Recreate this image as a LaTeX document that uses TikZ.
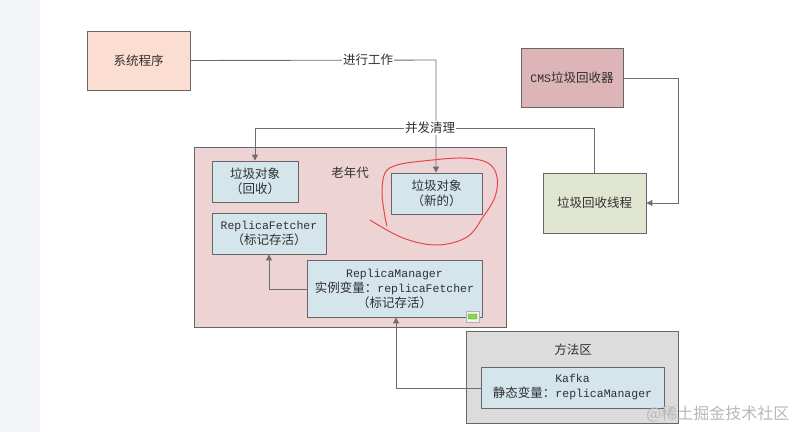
\documentclass[tikz,border=0pt]{standalone}
\usepackage{fontspec}
\setmainfont{Liberation Mono}
\newfontfamily\cjk{Noto Sans CJK SC}
\usetikzlibrary{arrows.meta}
\newcommand\zh[1]{{\fontsize{12.5}{15}\selectfont\cjk #1}}
\definecolor{linec}{HTML}{6E6E6E}
\definecolor{borderc}{HTML}{666666}
\definecolor{peach}{HTML}{FCDDD2}
\definecolor{cmsc}{HTML}{DDB4B7}
\definecolor{threadc}{HTML}{E1E6D3}
\definecolor{oldc}{HTML}{EDD3D4}
\definecolor{objc}{HTML}{D4E5EC}
\definecolor{methodc}{HTML}{DCDCDC}
\definecolor{txtc}{HTML}{303030}
\definecolor{redc}{HTML}{E8474A}
\definecolor{stripc}{HTML}{F4F5F9}
\definecolor{iconborder}{HTML}{B0B0B0}
\definecolor{iconfill}{HTML}{F2F2F2}
\definecolor{greenb}{HTML}{5E9E2E}
\definecolor{greenf}{HTML}{84D850}
\definecolor{wmc}{HTML}{B8B8B8}
\tikzset{
  box/.style={draw=borderc, line width=0.8pt, rectangle, inner sep=0pt, align=center,
    text=txtc, font=\fontsize{11.5}{15}\selectfont},
  conn/.style={draw=linec, line width=0.9pt},
  arr/.style={conn, -{Triangle[length=6pt,width=6pt]}},
  lbl/.style={fill=white, inner sep=1pt, text=txtc, font=\fontsize{12.5}{15}\selectfont\cjk},
}
\begin{document}
\begin{tikzpicture}[x=1pt,y=-1pt]
\useasboundingbox (0,0) rectangle (799,432);
\fill[white] (0,0) rectangle (799,432);
\fill[stripc] (0,0) rectangle (40,432);
% boxes
\node[box, fill=peach, minimum width=103pt, minimum height=59pt] (sys) at (138.5,60.5) {\zh{系统程序}};
\node[box, fill=cmsc, minimum width=102pt, minimum height=59pt] (cms) at (572,77.5) {CMS\zh{垃圾回收器}};
\node[box, fill=threadc, minimum width=103pt, minimum height=60pt] (thr) at (594.5,203) {\zh{垃圾回收线程}};
\node[box, fill=oldc, minimum width=312pt, minimum height=180pt] (old) at (350,237) {};
\node[text=txtc, font=\fontsize{12.5}{15}\selectfont\cjk] (oldl) at (350,173) {老年代};
\node[box, fill=objc, minimum width=86pt, minimum height=41pt] (rec) at (255,181.5) {\zh{垃圾对象}\\\zh{（回收）}};
\node[box, fill=objc, minimum width=91pt, minimum height=41pt] (new) at (436.5,193.5) {\zh{垃圾对象}\\\zh{（新的）}};
\node[box, fill=objc, minimum width=114pt, minimum height=41pt] (rf) at (269,233.5) {ReplicaFetcher\\\zh{（标记存活）}};
\node[box, fill=objc, minimum width=175pt, minimum height=57pt] (rm) at (394.5,288.5) {ReplicaManager\\\zh{实例变量：}replicaFetcher\\\zh{（标记存活）}};
\node[box, fill=methodc, minimum width=212pt, minimum height=92pt] (meth) at (572,377) {};
\node[text=txtc, font=\fontsize{12.5}{15}\selectfont\cjk] (methl) at (573,350) {方法区};
\node[box, fill=objc, minimum width=183pt, minimum height=41pt] (kafka) at (572.5,387.5) {Kafka\\\zh{静态变量：}replicaManager};
% green icon
\node[draw=iconborder, fill=iconfill, minimum width=13pt, minimum height=11pt, inner sep=0pt] (icon) at (472.5,316.5) {};
\node[draw=greenb, fill=greenf, rounded corners=1pt, minimum width=9pt, minimum height=5pt, inner sep=0pt] (iconin) at (icon.center) {};
% connectors
\coordinate (c1) at (436,60);
\draw[arr] (sys.east) -- (c1) -- (new.north -| c1);
\node[lbl] (l1) at (368,60) {进行工作};
\coordinate (c2a) at (678,78);
\coordinate (c2b) at (678,203);
\draw[arr] (cms.east |- c2a) -- (c2a) -- (c2b) -- (thr.east);
\coordinate (c3a) at (594.5,128);
\coordinate (c3b) at (255,128);
\draw[arr] (thr.north) -- (c3a) -- (c3b) -- (rec.north);
\node[lbl] (l2) at (430,128) {并发清理};
\coordinate (c4) at (269,289);
\draw[arr] (rm.west |- c4) -- (c4) -- (rf.south);
\coordinate (c5) at (396,388);
\draw[arr] (kafka.west |- c5) -- (c5) -- (rm.south -| c5);
% red freehand loop
\draw[redc, line width=1pt, line cap=round, line join=round]
  plot[smooth, tension=0.6] coordinates {(370,220) (403,238) (437,245) (467,237) (483,217) (495,197) (497,177) (488,163) (463,158) (423,161) (397,165) (385,173) (382,193) (385,217) (387,226)};
% watermark
\node[text=wmc, font=\fontsize{16}{18}\selectfont\cjk, anchor=east] (wm) at (793,414) {@稀土掘金技术社区};
\end{tikzpicture}
\end{document}
